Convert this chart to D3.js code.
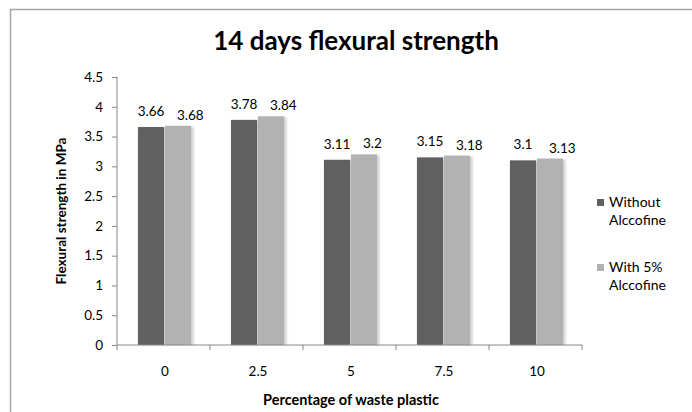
<!DOCTYPE html>
<html>
<head>
<meta charset="utf-8">
<script src="https://cdn.jsdelivr.net/npm/d3@7/dist/d3.min.js"></script>
<style>
  html, body { margin: 0; padding: 0; background: #fff; }
  svg { display: block; font-family: Lato, "Open Sans", sans-serif; }
</style>
</head>
<body>
<svg id="chart" width="692" height="412"></svg>
<script>
// Flexural strength after 14 days, by percentage of waste plastic
const categories = ["0", "2.5", "5", "7.5", "10"];
const seriesNames = ["Without Alccofine", "With 5% Alccofine"];
const withoutAlccofine = [3.66, 3.78, 3.11, 3.15, 3.10];
const withAlccofine = [3.68, 3.84, 3.20, 3.18, 3.13];
const yTicks = [0, 0.5, 1, 1.5, 2, 2.5, 3, 3.5, 4, 4.5];
const seriesColors = ["#606060", "#b2b2b2"];

const svg = d3.select("#chart");

// chart frame (top and left edges)
svg.append("path")
  .attr("d", "M10.5,412 V9.5 H692")
  .attr("fill", "none")
  .attr("stroke", "#a6a6a6")
  .attr("stroke-width", 1.5);

const plot = { left: 117, right: 582, top: 77, bottom: 345 };

const x0 = d3.scaleBand().domain(categories).range([plot.left, plot.right]).padding(0);
const x1 = d3.scaleBand().domain(seriesNames).range([0, x0.bandwidth()])
  .paddingInner(0.03).paddingOuter(0.74);
const y = d3.scaleLinear().domain([0, 4.5]).range([plot.bottom, plot.top]);

// soft drop shadow behind bars
const defs = svg.append("defs");
const f = defs.append("filter").attr("id", "shadow").attr("x", "-20%").attr("y", "-5%")
  .attr("width", "160%").attr("height", "110%");
f.append("feGaussianBlur").attr("stdDeviation", 1.2);

const rows = categories.map((c, i) => ({
  cat: c,
  vals: [withoutAlccofine[i], withAlccofine[i]]
}));

const groups = svg.append("g").selectAll("g").data(rows).join("g")
  .attr("transform", d => `translate(${x0(d.cat) + 1},0)`);

groups.selectAll("rect.shadow").data(d => d.vals.map((v, k) => ({ v, k })))
  .join("rect").attr("class", "shadow")
  .attr("x", d => x1(seriesNames[d.k]) + 1.5)
  .attr("y", d => y(d.v) + 1)
  .attr("width", x1.bandwidth() + 1)
  .attr("height", d => y(0) - y(d.v) - 1)
  .attr("fill", "#d0d0d0")
  .attr("filter", "url(#shadow)");

groups.selectAll("rect.bar").data(d => d.vals.map((v, k) => ({ v, k })))
  .join("rect").attr("class", "bar")
  .attr("x", d => x1(seriesNames[d.k]))
  .attr("y", d => y(d.v))
  .attr("width", x1.bandwidth())
  .attr("height", d => y(0) - y(d.v))
  .attr("fill", d => seriesColors[d.k]);

// value labels
groups.selectAll("text.val").data(d => d.vals.map((v, k) => ({ v, k })))
  .join("text").attr("class", "val")
  .attr("x", d => x1(seriesNames[d.k]) + x1.bandwidth() / 2 - (d.k === 1 ? 1 : 0))
  .attr("y", d => y(d.v) - (d.k === 0 ? 11 : 6))
  .attr("text-anchor", d => d.k === 0 ? "middle" : "start")
  .attr("font-size", 13.5)
  .attr("fill", "#000")
  .text(d => String(d.v));

// axes
const axisColor = "#888";
const yAxis = svg.append("g").attr("transform", `translate(${plot.left},0)`)
  .call(d3.axisLeft(y).tickValues(yTicks).tickSize(5).tickPadding(9).tickFormat(d => String(d)));
const xAxis = svg.append("g").attr("transform", `translate(0,${plot.bottom})`)
  .call(d3.axisBottom(x0).tickSize(0).tickPadding(21));

// category boundary ticks on x axis
xAxis.selectAll("line.bound")
  .data(categories.map(c => x0(c)).concat([plot.right]))
  .join("line").attr("class", "bound")
  .attr("x1", d => d).attr("x2", d => d)
  .attr("y1", 0).attr("y2", 5)
  .attr("stroke", axisColor);

[yAxis, xAxis].forEach(a => {
  a.select(".domain").attr("stroke", axisColor);
  a.selectAll(".tick line").attr("stroke", axisColor);
  a.selectAll(".tick text").attr("font-size", 13.5).attr("fill", "#000")
    .attr("font-family", "Lato, sans-serif");
});
xAxis.selectAll(".tick").attr("transform", d => `translate(${x0(d) + x0.bandwidth() / 2 + 1.5},0)`);
yAxis.select(".domain").attr("d", `M-0.5,${plot.top}H0V${plot.bottom}`);
xAxis.select(".domain").attr("d", `M${plot.left},0H${plot.right}`);

// titles
svg.append("text")
  .attr("x", 356).attr("y", 50)
  .attr("text-anchor", "middle")
  .attr("font-size", 26).attr("font-weight", "bold")
  .text("14 days flexural strength");

svg.append("text")
  .attr("transform", "translate(66,211) rotate(-90)")
  .attr("text-anchor", "middle")
  .attr("font-size", 13.5).attr("font-weight", "bold")
  .text("Flexural strength in MPa");

svg.append("text")
  .attr("x", 351).attr("y", 405)
  .attr("text-anchor", "middle")
  .attr("font-size", 14.5).attr("font-weight", "bold")
  .text("Percentage of waste plastic");

// legend
const legendLines = [["Without", "Alccofine"], ["With 5%", "Alccofine"]];
const legend = svg.append("g").selectAll("g").data(seriesNames).join("g")
  .attr("transform", (d, i) => `translate(597,${199 + i * 65})`);
legend.append("rect").attr("width", 7).attr("height", 7)
  .attr("fill", (d, i) => seriesColors[i]);
legend.append("text")
  .attr("x", 12).attr("y", 8)
  .attr("font-size", 14)
  .selectAll("tspan").data((d, i) => legendLines[i]).join("tspan")
  .attr("x", 12).attr("dy", (d, j) => j === 0 ? 0 : 18)
  .text(d => d);
</script>
</body>
</html>
